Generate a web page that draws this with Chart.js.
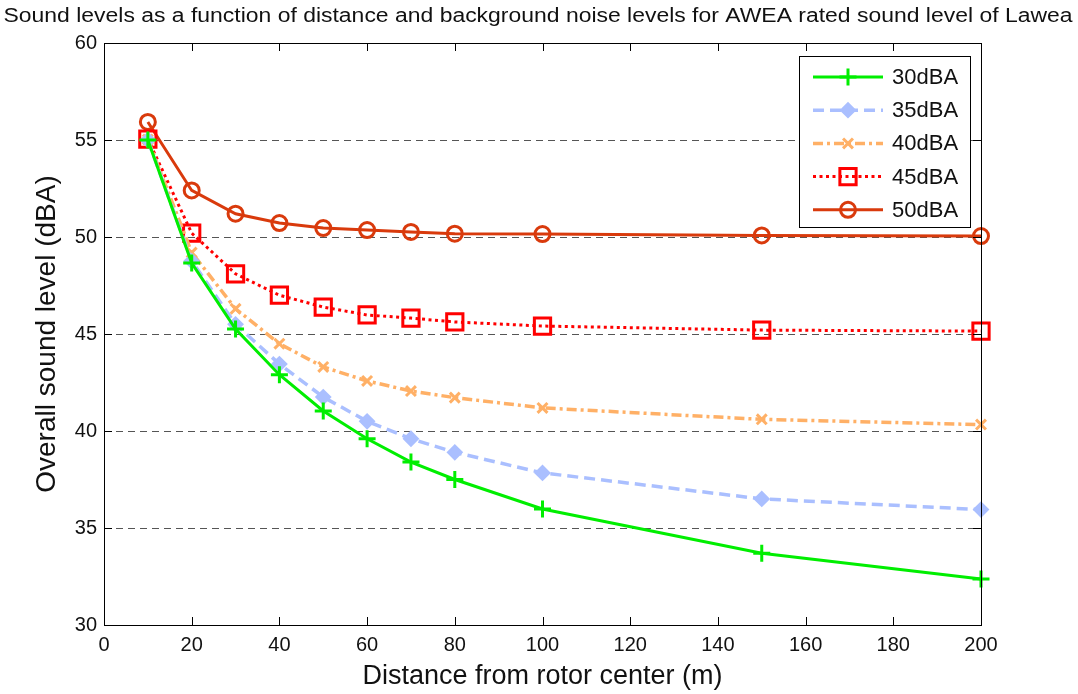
<!DOCTYPE html>
<html>
<head>
<meta charset="utf-8">
<script src="https://cdn.jsdelivr.net/npm/chart.js@4/dist/chart.umd.min.js"></script>
<style>
html,body{margin:0;padding:0;background:#fff;}
#wrap{width:1078px;height:694px;}
</style>
</head>
<body>
<div id="wrap"><canvas id="c" width="1078" height="694"></canvas></div>
<script>
const chartTitle = "Sound levels as a function of distance and background noise levels for AWEA rated sound level of Lawea";
const xTitle = "Distance from rotor center (m)";
const yTitle = "Overall sound level (dBA)";
const distances = [10, 20, 30, 40, 50, 60, 70, 80, 100, 150, 200];
const seriesNames = ["30dBA", "35dBA", "40dBA", "45dBA", "50dBA"];
const bg30 = [55.0, 48.66, 45.26, 42.9, 41.03, 39.6, 38.4, 37.5, 35.98, 33.7, 32.37];
const bg35 = [55.0, 48.76, 45.5, 43.45, 41.75, 40.5, 39.6, 38.9, 37.84, 36.5, 35.95];
const bg40 = [55.02, 49.2, 46.3, 44.5, 43.3, 42.58, 42.06, 41.72, 41.19, 40.6, 40.33];
const bg45 = [55.05, 50.2, 48.1, 47.0, 46.39, 45.98, 45.82, 45.62, 45.41, 45.2, 45.15];
const bg50 = [55.93, 52.4, 51.2, 50.72, 50.46, 50.36, 50.26, 50.17, 50.15, 50.08, 50.05];
const xTicks = [0, 20, 40, 60, 80, 100, 120, 140, 160, 180, 200];
const yTicks = [30, 35, 40, 45, 50, 55, 60];

function pts(arr){ return distances.map((d,i)=>({x:d, y:arr[i]})); }

const FONT = '"Liberation Sans", Arial, sans-serif';
const styles = [
  {color:'#00ee00', dash:[], width:3, style:'cross', radius:8.5, fill:false},
  {color:'#aabfff', dash:[11,6], width:3.5, style:'rectRot', radius:7, fill:true},
  {color:'#ffb066', dash:[10,4,3,4], width:3.5, style:'crossRot', radius:7, fill:false},
  {color:'#ff0000', dash:[3,3.5], width:3, style:'rect', radius:11.5, fill:false},
  {color:'#d93a0c', dash:[], width:3, style:'circle', radius:7.5, fill:false}
];
const allData = [bg30, bg35, bg40, bg45, bg50];

const datasets = allData.map((arr,i)=>{
  const s = styles[i];
  return {
    label: seriesNames[i],
    data: pts(arr),
    borderColor: s.color,
    backgroundColor: s.fill ? s.color : 'rgba(0,0,0,0)',
    borderWidth: s.width,
    borderDash: s.dash,
    borderCapStyle: 'butt',
    pointStyle: s.style,
    pointRadius: s.radius,
    pointHoverRadius: s.radius,
    pointBorderWidth: s.fill ? 2 : 3,
    pointBorderColor: s.color,
    pointBackgroundColor: s.fill ? s.color : 'rgba(0,0,0,0)',
    tension: 0,
    fill: false,
    clip: false
  };
});

const framePlugin = {
  id: 'frame',
  beforeDatasetsDraw(chart){
    const {ctx, chartArea:a, scales:{x, y}} = chart;
    ctx.save();
    ctx.strokeStyle = '#555555';
    ctx.lineWidth = 1;
    ctx.setLineDash([7,5]);
    yTicks.forEach(v=>{
      if (v === 30 || v === 60) return;
      const py = Math.round(y.getPixelForValue(v)) + 0.5;
      ctx.beginPath(); ctx.moveTo(a.left, py); ctx.lineTo(a.right, py); ctx.stroke();
    });
    ctx.restore();
  },
  afterDatasetsDraw(chart){
    const {ctx, chartArea:a, scales:{x, y}} = chart;
    ctx.save();
    ctx.strokeStyle = '#000';
    ctx.lineWidth = 1;
    ctx.setLineDash([]);
    ctx.strokeRect(Math.round(a.left)+0.5, Math.round(a.top)+0.5, Math.round(a.right-a.left), Math.round(a.bottom-a.top));
    const tl = 8;
    xTicks.forEach(v=>{
      const px = Math.round(x.getPixelForValue(v)) + 0.5;
      ctx.beginPath();
      ctx.moveTo(px, a.bottom); ctx.lineTo(px, a.bottom - tl);
      ctx.moveTo(px, a.top); ctx.lineTo(px, a.top + tl);
      ctx.stroke();
    });
    yTicks.forEach(v=>{
      const py = Math.round(y.getPixelForValue(v)) + 0.5;
      ctx.beginPath();
      ctx.moveTo(a.left, py); ctx.lineTo(a.left + tl, py);
      ctx.moveTo(a.right, py); ctx.lineTo(a.right - tl, py);
      ctx.stroke();
    });
    // legend box
    const lx = 799, ly = 56, lw = 171, lh = 171;
    ctx.fillStyle = '#fff';
    ctx.fillRect(lx, ly, lw, lh);
    ctx.strokeRect(lx+0.5, ly+0.5, lw, lh);
    chart.data.datasets.forEach((ds,i)=>{
      const cy = 77 + i*33.2;
      ctx.save();
      ctx.strokeStyle = ds.borderColor;
      ctx.lineWidth = ds.borderWidth;
      ctx.setLineDash(ds.borderDash);
      ctx.lineCap = 'butt';
      ctx.beginPath(); ctx.moveTo(813, cy); ctx.lineTo(883, cy); ctx.stroke();
      ctx.setLineDash([]);
      ctx.strokeStyle = ds.pointBorderColor;
      ctx.fillStyle = ds.pointBackgroundColor;
      ctx.lineWidth = ds.pointBorderWidth;
      Chart.helpers.drawPoint(ctx, {pointStyle: ds.pointStyle, radius: ds.pointRadius, rotation: 0, borderWidth: ds.pointBorderWidth}, 848, cy);
      ctx.restore();
      ctx.fillStyle = '#111';
      ctx.font = '22px ' + FONT;
      ctx.textBaseline = 'middle';
      ctx.textAlign = 'left';
      ctx.fillText(ds.label, 892, cy + 1);
    });
    ctx.restore();
  },
  afterDraw(chart){
    const ctx = chart.ctx;
    ctx.save();
    ctx.font = '20px ' + FONT;
    ctx.fillStyle = '#111';
    ctx.textBaseline = 'middle';
    ctx.textAlign = 'center';
    const w = ctx.measureText(chartTitle).width;
    const sx = 1069 / w;
    ctx.translate(538, 16);
    ctx.scale(sx, 1);
    ctx.fillText(chartTitle, 0, 0);
    ctx.restore();
  }
};

new Chart(document.getElementById('c'), {
  type: 'line',
  data: { datasets },
  plugins: [framePlugin],
  options: {
    responsive: false,
    animation: false,
    events: [],
    layout: { padding: { top: 43, left: 0, right: 97, bottom: 0 } },
    plugins: {
      legend: { display: false },
      tooltip: { enabled: false },
      title: { display: false }
    },
    scales: {
      x: {
        type: 'linear',
        min: 0, max: 200,
        afterFit(s){ s.height = 69; },
        afterBuildTicks(s){ s.ticks = xTicks.map(v=>({value:v})); },
        grid: { display: false, drawTicks: false },
        border: { display: false },
        ticks: { color: '#111', padding: 8, font: { family: FONT, size: 20 }, maxRotation: 0, autoSkip: false },
        title: { display: true, text: xTitle, color: '#111', font: { family: FONT, size: 27 }, padding: { top: 0, bottom: 1 } }
      },
      y: {
        type: 'linear',
        min: 30, max: 60,
        afterFit(s){ s.width = 104; },
        afterBuildTicks(s){ s.ticks = yTicks.map(v=>({value:v})); },
        grid: { display: false, drawTicks: false },
        border: { display: false },
        ticks: { color: '#111', padding: 7, font: { family: FONT, size: 20 }, autoSkip: false },
        title: { display: true, text: yTitle, color: '#111', font: { family: FONT, size: 28 }, padding: { top: 30, bottom: 0 } }
      }
    }
  }
});
</script>
</body>
</html>
